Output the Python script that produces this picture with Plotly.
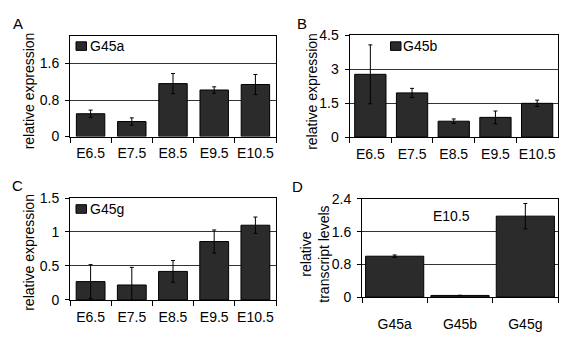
import plotly.graph_objects as go

W, H = 567, 337

# ---- data ----
stages = ["E6.5", "E7.5", "E8.5", "E9.5", "E10.5"]
g45a = [0.50, 0.33, 1.16, 1.02, 1.14]
g45a_err = [0.08, 0.08, 0.22, 0.07, 0.22]
g45b = [2.77, 1.95, 0.70, 0.87, 1.49]
g45b_err = [1.30, 0.20, 0.10, 0.28, 0.14]
g45g = [0.27, 0.22, 0.42, 0.86, 1.10]
g45g_err = [0.25, 0.26, 0.16, 0.17, 0.12]
genes = ["G45a", "G45b", "G45g"]
e105 = [1.00, 0.04, 1.98]
e105_err = [0.03, 0.005, 0.31]

ticks_a = [0, 0.8, 1.6]
ticks_b = [0, 1.5, 3, 4.5]
ticks_c = [0, 0.5, 1, 1.5]
ticks_d = [0, 0.8, 1.6, 2.4]
ticktext_a = ["0", "0.8", "1.6"]
ticktext_b = ["0", "1.5", "3", "4.5"]
ticktext_c = ["0", "0.5", "1", "1.5"]
ticktext_d = ["0", "0.8", "1.6", "2.4"]

FONT = "Liberation Sans, Arial, sans-serif"
BAR = "#2b2b2b"


def px(x):
    return x / W


def py(y):
    return 1 - y / H


# pixel boxes (left, top, right, bottom)
panels = [
    dict(box=(70, 29.5, 276, 135), cats=stages, vals=g45a, err=g45a_err,
         rng=[0, 2.2], tv=ticks_a, tt=ticktext_a, width=0.69, standoff=4),
    dict(box=(349.5, 28.5, 558, 135.5), cats=stages, vals=g45b, err=g45b_err,
         rng=[0, 4.5], tv=ticks_b, tt=ticktext_b, width=0.75, standoff=4),
    dict(box=(70, 199.5, 276, 306.5), cats=stages, vals=g45g, err=g45g_err,
         rng=[0, 1.5], tv=ticks_c, tt=ticktext_c, width=0.70, standoff=4),
    dict(box=(362, 200.5, 558, 303.5), cats=genes, vals=e105, err=e105_err,
         rng=[0, 2.4], tv=ticks_d, tt=ticktext_d, width=0.89, standoff=14),
]

fig = go.Figure()
layout = dict(
    width=W, height=H,
    margin=dict(l=0, r=0, t=0, b=0),
    paper_bgcolor="white", plot_bgcolor="white",
    showlegend=False,
    font=dict(family=FONT, size=14, color="black"),
    bargap=0.3,
)

for i, p in enumerate(panels):
    n = "" if i == 0 else str(i + 1)
    l, t, r, b = p["box"]
    fig.add_trace(go.Bar(
        x=p["cats"], y=p["vals"], width=p["width"],
        marker=dict(color=BAR, line=dict(color="black", width=1)),
        error_y=dict(type="data", array=p["err"], visible=True,
                     color="black", thickness=1, width=2),
        xaxis="x" + n, yaxis="y" + n,
    ))
    layout["xaxis" + n] = dict(
        domain=[px(l), px(r)], anchor="y" + n, type="category",
        showline=True, linecolor="black", linewidth=1, mirror=True,
        ticks="outside", tickson="boundaries", ticklen=5, tickcolor="black",
        showgrid=False, ticklabelstandoff=p["standoff"], tickangle=0,
        tickfont=dict(family=FONT, size=14, color="black"),
    )
    layout["yaxis" + n] = dict(
        domain=[py(b), py(t)], anchor="x" + n, range=p["rng"],
        tickmode="array", tickvals=p["tv"], ticktext=p["tt"],
        showline=True, linecolor="black", linewidth=1, mirror=True,
        ticks="outside", ticklen=4, tickcolor="black",
        showgrid=True, gridcolor="#333333", gridwidth=1, zeroline=False,
        ticklabelstandoff=3,
        tickfont=dict(family=FONT, size=14, color="black"),
    )

annotations = []


def ann(text, x, y, size=14, angle=0, xanchor="center", yanchor="middle"):
    annotations.append(dict(
        text=text, x=px(x), y=py(y), xref="paper", yref="paper",
        showarrow=False, textangle=angle, xanchor=xanchor, yanchor=yanchor,
        font=dict(family=FONT, size=size, color="black"),
    ))


# panel letters
ann("A", 18, 16, size=15)
ann("B", 302, 16, size=15)
ann("C", 17, 186, size=15)
ann("D", 297, 187, size=15)

# y-axis titles
ann("relative expression", 29, 87.5, angle=-90)
ann("relative expression", 312.5, 87.5, angle=-90)
ann("relative expression", 29, 257, angle=-90)
ann("relative<br>transcript levels", 315, 259, angle=-90)

# legend texts
ann("G45a", 87.5, 40, xanchor="left")
ann("G45b", 400.5, 40, xanchor="left")
ann("G45g", 87.5, 211, xanchor="left")
ann("E10.5", 451.5, 218)

shapes = []
for (x0, y0) in [(76, 35.5), (390.5, 35.5), (76, 206.5)]:
    shapes.append(dict(type="rect", xref="paper", yref="paper",
                       x0=px(x0), x1=px(x0 + 10.5), y0=py(y0 + 9), y1=py(y0),
                       fillcolor=BAR, line=dict(color="black", width=1)))

layout["annotations"] = annotations
layout["shapes"] = shapes
fig.update_layout(**layout)
fig.write_html("out.html")
